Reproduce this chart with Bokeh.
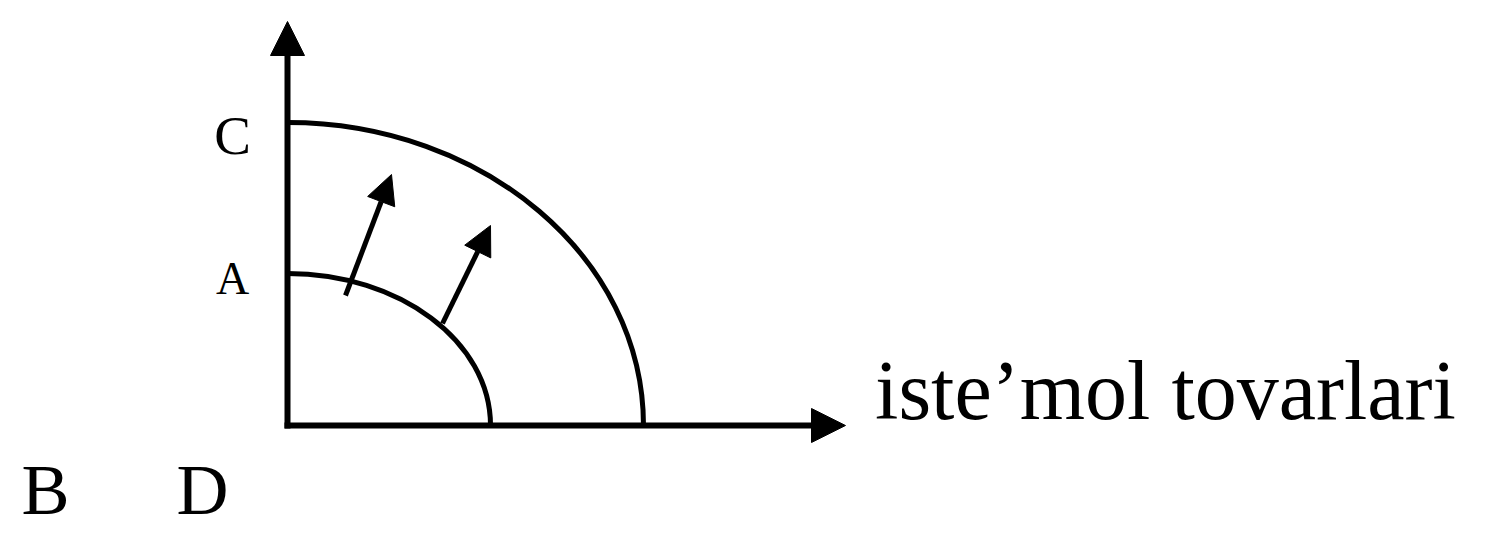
from bokeh.plotting import figure
from bokeh.models import Range1d, Arrow, NormalHead, ColumnDataSource
from bokeh.core.properties import value
from bokeh.embed import file_html
from bokeh.resources import INLINE

# ---- data (diagram units, origin at the axes corner) ----
frontiers = ["A-B", "C-D"]
frontier_x_intercept = [203, 356]
frontier_y_intercept = [152, 303]

shift_x_start = [58, 155]
shift_y_start = [130, 102]
shift_x_end = [104, 203]
shift_y_end = [251, 200]

axis_x_end = 558
axis_y_end = 404

y_labels = ["C", "A"]
y_label_y = [290, 147]
y_label_size = ["55px", "46px"]

bottom_labels = ["B", "D"]
bottom_label_x = [-242, -85]

x_axis_title = "iste\u2019mol tovarlari"

W, H = 1470, 529
X0, Y0 = 287, 425  # position of the axes corner inside the canvas
p = figure(width=W, height=H, output_backend="svg", toolbar_location=None,
           x_range=Range1d(-X0, W - X0), y_range=Range1d(Y0 - H, Y0),
           x_axis_type=None, y_axis_type=None, min_border=0,
           background_fill_color="white", border_fill_color="white")
p.outline_line_color = None
p.grid.visible = False

# axes with arrowheads
p.add_layout(Arrow(end=NormalHead(size=34, fill_color="black", line_color="black"),
                   x_start=0, y_start=-3, x_end=0, y_end=axis_y_end,
                   line_width=6, line_color="black"))
p.add_layout(Arrow(end=NormalHead(size=34, fill_color="black", line_color="black"),
                   x_start=-3, y_start=0, x_end=axis_x_end, y_end=0,
                   line_width=6, line_color="black"))

# production possibility frontiers (quarter ellipses as cubic beziers)
k = 0.5523
src = ColumnDataSource(dict(
    x0=[0] * len(frontiers), y0=frontier_y_intercept,
    x1=frontier_x_intercept, y1=[0] * len(frontiers),
    cx0=[k * a for a in frontier_x_intercept], cy0=frontier_y_intercept,
    cx1=frontier_x_intercept, cy1=[k * b for b in frontier_y_intercept],
))
p.bezier(x0="x0", y0="y0", x1="x1", y1="y1", cx0="cx0", cy0="cy0",
         cx1="cx1", cy1="cy1", source=src, line_color="black", line_width=5)

# shift arrows
for xs, ys, xe, ye in zip(shift_x_start, shift_y_start, shift_x_end, shift_y_end):
    p.add_layout(Arrow(end=NormalHead(size=29, fill_color="black", line_color="black"),
                       x_start=xs, y_start=ys, x_end=xe, y_end=ye,
                       line_width=5, line_color="black"))

serif = value("Liberation Serif")
for lab, yy, sz in zip(y_labels, y_label_y, y_label_size):
    p.text(x=[-55], y=[yy], text=[lab], text_font=serif, text_font_size=sz,
           text_align="center", text_baseline="middle", text_color="black")

p.text(x=bottom_label_x, y=[-64] * len(bottom_labels), text=bottom_labels,
       text_font=serif, text_font_size="72px", text_align="center",
       text_baseline="middle", text_color="black")

p.text(x=[878], y=[35], text=[x_axis_title], text_font=serif,
       text_font_size="84px", text_align="center", text_baseline="middle",
       text_color="black")

open("out.html", "w").write(file_html(p, INLINE))
